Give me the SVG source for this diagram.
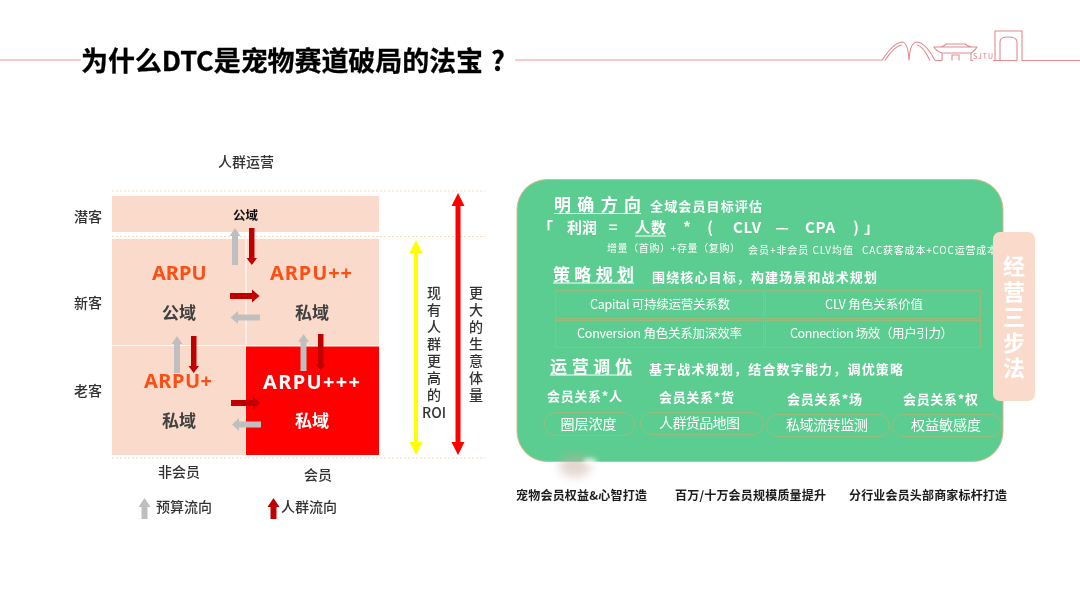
<svg xmlns="http://www.w3.org/2000/svg" width="1080" height="605" viewBox="0 0 1080 605">
<style>
text{font-family:"Noto Sans CJK SC","Noto Sans","Liberation Sans",sans-serif;dominant-baseline:central;transform:translateY(-1px)}
.m{text-anchor:middle}
.lab{font-size:14px;fill:#333;font-weight:500}
.v{writing-mode:vertical-rl;letter-spacing:3px;dominant-baseline:auto}
.b{font-weight:700}
.cell{fill:#fadbcb}
.arpu{font-family:"Noto Sans","Liberation Sans",sans-serif;font-size:20px;font-weight:700;fill:#fb4f14}
.dom{font-size:17px;font-weight:700;fill:#404040}
.head{font-size:17px;font-weight:700;fill:#fff}
.sub{font-size:13px;font-weight:700;fill:#fff}
.small{font-size:10px;fill:#fff}
.cellt{font-size:12.5px;fill:#fff}
.key{font-size:13px;font-weight:700;fill:#fff}
.pill{font-size:14px;fill:#fff}
.foot{font-size:12px;font-weight:700;fill:#1a1a1a}
.box{fill:none;stroke:#a8b878;stroke-width:.8}
.oval{fill:none;stroke:#a8b878;stroke-width:.8}
.dash{stroke:#fbd9b8;stroke-width:1;stroke-dasharray:2 2}
.logo{fill:none;stroke:#e58a90;stroke-width:1.1}
.rule{stroke:#f29a9e;stroke-width:1.2}
.g{fill:#bfbfbf}
.r{fill:#c00000}
</style>
<defs>
<filter id="sm" x="-50%" y="-50%" width="200%" height="200%"><feGaussianBlur stdDeviation="5"/></filter>
<filter id="sm2" x="-50%" y="-50%" width="200%" height="200%"><feGaussianBlur stdDeviation="2"/></filter>
<filter id="sf" x="-5%" y="-5%" width="110%" height="110%"><feGaussianBlur stdDeviation="0.35"/></filter>
</defs>
<g filter="url(#sf)">
<g id="title">
<line class="rule" x1="0" y1="60" x2="81" y2="60"/>
<line class="rule" x1="515" y1="60" x2="882" y2="60"/>
<text x="81" y="60" font-size="27" font-weight="700" fill="#000" stroke="#000" stroke-width=".3" textLength="402" lengthAdjust="spacing">为什么DTC是宠物赛道破局的法宝</text>
<text x="491" y="60" font-size="27" font-weight="700" fill="#000" stroke="#000" stroke-width=".3">?</text>
</g>
<g id="logo">
<path class="logo" d="M882 60.500Q893 43 902 42Q908 42 909 60.500Q910 42 917 42Q926 43 935 60.500M885 60.500Q894 46 902 45M930 60.500Q923 46 917 45M935 60.500H942V53H971V60.500H973M942 53Q936 51 934 47H977Q975 51 971 53M940 47Q945 46 946 44H965Q967 46 972 47M952 60.500V55H959V60.500M995 60.500V31H1022V60.500H1080M1000 60.500V42Q1000 37 1008 37Q1017 37 1017 42V60.500M993 60.500H1017"/>
<text x="973" y="57" font-size="7" fill="#e0777d" font-family="Liberation Sans,sans-serif" textLength="20">SJTU</text>
</g>
<g id="guides">
<line class="dash" x1="112" y1="191" x2="485" y2="191"/>
<line class="dash" x1="112" y1="236.500" x2="485" y2="236.500"/>
<line class="dash" x1="112" y1="458" x2="485" y2="458"/>
</g>
<g id="matrix-title"><text class="lab m" x="246" y="162">人群运营</text></g>
<g id="row-labels">
<text class="lab m" x="88" y="217">潜客</text>
<text class="lab m" x="88" y="303">新客</text>
<text class="lab m" x="88" y="391">老客</text>
</g>
<g id="col-labels">
<text class="lab m" x="179" y="472">非会员</text>
<text class="lab m" x="318" y="475">会员</text>
</g>
<g id="cell-top"><rect class="cell" x="112" y="196" width="267" height="36"/><text class="m b" font-size="12.500" x="245.500" y="215" fill="#111">公域</text></g>
<g id="cell-new-non"><rect class="cell" x="112" y="239" width="133.500" height="106"/><text class="arpu" x="152" y="273">ARPU</text><text class="dom m" x="179" y="312">公域</text></g>
<g id="cell-new-mem"><rect class="cell" x="246.500" y="239" width="132.500" height="106"/><text class="arpu" x="270" y="273" textLength="82" lengthAdjust="spacing">ARPU++</text><text class="dom m" x="312" y="312">私域</text></g>
<g id="cell-old-non"><rect class="cell" x="112" y="346" width="133.500" height="109"/><text class="arpu" x="144" y="381" textLength="68" lengthAdjust="spacing">ARPU+</text><text class="dom m" x="179" y="420">私域</text></g>
<g id="cell-old-mem"><rect x="246" y="346.500" width="133" height="108.500" fill="#ff0000"/><text class="arpu" x="263" y="382" textLength="97" lengthAdjust="spacing" style="fill:#fff">ARPU+++</text><text class="dom m" x="312" y="420" style="fill:#fff">私域</text></g>
<g id="connectors">
<polygon class="g" points="232,265 238,265 238,236 240.500,236 235,228 229.500,236 232,236"/>
<polygon class="r" points="249,228 254.500,228 254.500,258 257,258 251.800,265 246.500,258 249,258"/>
<polygon class="r" points="230,293 252,293 252,289.500 259.500,296 252,302.500 252,299 230,299"/>
<polygon class="g" points="260,314.500 238,314.500 238,311 230.500,317.500 238,324 238,320.500 260,320.500"/>
<polygon class="g" points="174,373 180,373 180,344 182.500,344 177,336 171.500,344 174,344"/>
<polygon class="r" points="191,336 196.500,336 196.500,366 199,366 193.700,373 188.500,366 191,366"/>
<polygon class="g" points="300.500,371 306.500,371 306.500,342 309,342 303.500,334 298,342 300.500,342"/>
<polygon class="r" points="318,334 323.500,334 323.500,364 326,364 320.800,370 315.500,364 318,364"/>
<polygon class="r" points="231,400 253,400 253,396.500 260.500,403 253,409.500 253,406 231,406"/>
<polygon class="g" points="261,421.500 239,421.500 239,418 232,424.500 239,431 239,427.500 261,427.500"/>
<polygon fill="#ffff00" points="414,253 414,442 409.500,442 416,455 422.500,442 418,442 418,253 422.500,253 416,240 409.500,253"/>
<polygon fill="#ff0000" points="455.500,206 455.500,442 451.500,442 458,455 464.500,442 460.500,442 460.500,206 464.500,206 458,193 451.500,206"/>
</g>
<g id="label-roi">
<text class="lab v" x="434" y="287">现有人群更高的</text>
<text class="lab m" x="434" y="413" font-family="Liberation Sans,sans-serif">ROI</text>
</g>
<g id="label-volume">
<text class="lab v" x="476" y="287">更大的生意体量</text>
</g>
<g id="legend">
<polygon class="g" points="141.500,519 147.500,519 147.500,507 150.500,507 144.500,498 138.500,507 141.500,507"/>
<text class="lab" x="156" y="507">预算流向</text>
<polygon class="r" points="270.500,519 276.500,519 276.500,507 279.500,507 273.500,498 267.500,507 270.500,507"/>
<text class="lab" x="281" y="507">人群流向</text>
</g>
<g id="panel">
<rect x="517" y="179.500" width="486" height="282" rx="30" fill="#5ccd90" stroke="#dcb88c" stroke-width="1"/>
<ellipse cx="575" cy="466" rx="16" ry="11" fill="#c9aea0" opacity=".5" filter="url(#sm)"/>
<ellipse cx="590" cy="461.500" rx="7" ry="3.500" fill="#fff" opacity=".7" filter="url(#sm2)"/>
</g>
<g id="step1">
<text class="head" x="554" y="204" textLength="87">明确方向</text>
<line x1="554" y1="213.500" x2="641" y2="213.500" stroke="#fff" stroke-width="1"/>
<text class="sub" x="650" y="206" textLength="112">全域会员目标评估</text>
<g class="b" font-size="15" fill="#fff">
<text x="538" y="227">「</text><text x="567" y="227" textLength="30">利润</text><text class="m" x="613" y="227">=</text><text x="635" y="227" textLength="31">人数</text><text class="m" x="687" y="227">*</text><text class="m" x="710" y="227">(</text><text x="733" y="227" textLength="28" font-family="Liberation Sans,sans-serif">CLV</text><text class="m" x="782" y="227">—</text><text x="805" y="227" textLength="30" font-family="Liberation Sans,sans-serif">CPA</text><text class="m" x="856" y="227">)</text><text x="864" y="227">」</text>
</g>
<line x1="635" y1="236" x2="666" y2="236" stroke="#fff" stroke-width="1"/>
<text class="small" x="607" y="248" textLength="133">增量（首购）+存量（复购）</text>
<text class="small" x="748" y="250" textLength="105">会员+非会员 CLV均值</text>
<text class="small" x="862" y="250" textLength="135">CAC获客成本+COC运营成本</text>
</g>
<g id="step2">
<text class="head" x="553" y="274" textLength="81">策略规划</text>
<line x1="553" y1="283" x2="634" y2="283" stroke="#fff" stroke-width="1"/>
<text class="sub" x="652" y="277" textLength="225">围绕核心目标，构建场景和战术规划</text>
<rect class="box" x="555.500" y="290.500" width="208" height="28"/>
<rect class="box" x="765.500" y="290.500" width="215" height="28"/>
<rect class="box" x="555.500" y="320.500" width="208" height="27"/>
<rect class="box" x="765.500" y="320.500" width="215" height="27"/>
<text class="cellt" x="590" y="304" textLength="140">Capital 可持续运营关系数</text>
<text class="cellt" x="825" y="304" textLength="98">CLV 角色关系价值</text>
<text class="cellt" x="577" y="333" textLength="165">Conversion 角色关系加深效率</text>
<text class="cellt" x="790" y="333" textLength="163">Connection 场效（用户引力）</text>
</g>
<g id="step3">
<text class="head" x="550" y="366" textLength="82">运营调优</text>
<line x1="550" y1="375" x2="632" y2="375" stroke="#fff" stroke-width="1"/>
<text class="sub" x="649" y="369" textLength="254">基于战术规划，结合数字能力，调优策略</text>
<text class="key" x="547" y="396" textLength="75">会员关系*人</text>
<text class="key" x="659" y="397" textLength="75">会员关系*货</text>
<text class="key" x="787" y="399" textLength="75">会员关系*场</text>
<text class="key" x="903" y="399" textLength="75">会员关系*权</text>
<rect class="oval" x="544.500" y="412.500" width="90" height="23" rx="11.500"/>
<rect class="oval" x="640.500" y="412.500" width="123" height="22" rx="11"/>
<rect class="oval" x="766.500" y="414.500" width="123" height="22" rx="11"/>
<rect class="oval" x="892.500" y="414.500" width="109" height="22" rx="11"/>
<text class="pill m" x="588.500" y="423.500">圈层浓度</text>
<text class="pill" x="659" y="422.500" textLength="81">人群货品地图</text>
<text class="pill" x="786" y="424.500" textLength="82">私域流转监测</text>
<text class="pill" x="911" y="424.500" textLength="70">权益敏感度</text>
</g>
<g id="side-tab">
<rect x="993" y="232" width="42" height="169" rx="7" fill="#fadbcb"/>
<text x="1014" y="256" font-size="22" font-weight="700" fill="#fff" style="writing-mode:vertical-rl;letter-spacing:3.500px;dominant-baseline:auto">经营三步法</text>
</g>
<g id="footer">
<text class="foot" x="516" y="495" textLength="131">宠物会员权益&amp;心智打造</text>
<text class="foot" x="675" y="495" textLength="151">百万/十万会员规模质量提升</text>
<text class="foot" x="849" y="495" textLength="158">分行业会员头部商家标杆打造</text>
</g>
</g>
</svg>
